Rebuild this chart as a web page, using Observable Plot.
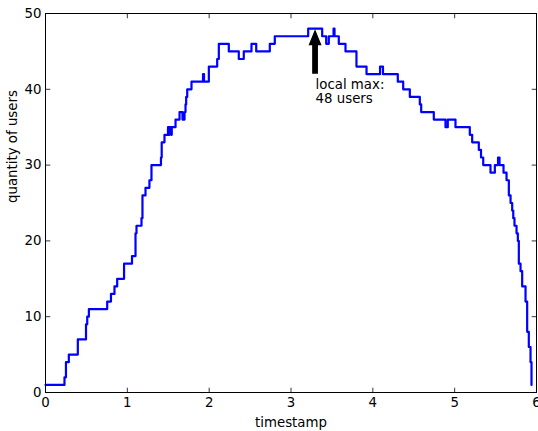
<!DOCTYPE html>
<html>
<head>
<meta charset="utf-8">
<script src="https://cdn.jsdelivr.net/npm/d3@7"></script>
<script src="https://cdn.jsdelivr.net/npm/@observablehq/plot@0.6"></script>
<style>
  html, body { margin: 0; padding: 0; background: #fff; }
</style>
</head>
<body>
<div id="chart"></div>
<script>
const timestamps = [0, 0.232, 0.25, 0.285, 0.395, 0.495, 0.51, 0.53, 0.754, 0.80, 0.843, 0.876, 0.96, 1.057, 1.10, 1.112, 1.173, 1.185, 1.222, 1.27, 1.295, 1.411, 1.42, 1.454, 1.497, 1.507, 1.515, 1.536, 1.543, 1.589, 1.638, 1.674, 1.699, 1.711, 1.719, 1.732, 1.784, 1.925, 1.937, 1.996, 2.098, 2.118, 2.24, 2.362, 2.423, 2.517, 2.575, 2.741, 2.802, 3.21, 3.381, 3.43, 3.462, 3.52, 3.532, 3.584, 3.666, 3.80, 3.923, 4.088, 4.124, 4.305, 4.371, 4.452, 4.574, 4.591, 4.745, 4.888, 4.916, 5.01, 5.185, 5.214, 5.295, 5.322, 5.349, 5.438, 5.491, 5.53, 5.548, 5.597, 5.634, 5.662, 5.683, 5.703, 5.716, 5.731, 5.756, 5.772, 5.784, 5.805, 5.825, 5.866, 5.886, 5.906, 5.927, 5.939];
const users = [1, 2, 4, 5, 7, 9, 10, 11, 12, 13, 14, 15, 17, 18, 21, 22, 23, 26, 27, 28, 30, 31, 33, 34, 35, 34, 35, 34, 35, 36, 37, 36, 37, 38, 39, 40, 41, 42, 41, 43, 44, 46, 45, 44, 45, 46, 45, 46, 47, 48, 47, 46, 47, 48, 47, 46, 45, 43, 42, 43, 42, 41, 40, 39, 38, 37, 36, 35, 36, 35, 34, 33, 32, 31, 30, 29, 30, 31, 30, 29, 28, 26, 25, 24, 23, 22, 21, 20, 17, 16, 14, 12, 8, 6, 4, 1];

const xTicks = [0, 1, 2, 3, 4, 5, 6];
const yTicks = [0, 10, 20, 30, 40, 50];
const xDomain = [0, 6];
const yDomain = [0, 50];

const xLabel = "timestamp";
const yLabel = "quantity of users";

const annText = "local max:\n48 users";
const annX = 3.3;
const annTextY = 38.25;
const arrowTailY = 42;
const arrowTipY = 47.85;

const data = timestamps.map((t, i) => ({t, u: users[i]}));

const FONT = "DejaVu Sans";
const FS = 13.33;
const tickShape = {draw(ctx, l) { ctx.moveTo(0, 0); ctx.lineTo(0, -l); }};
const tickLen = 4.4;

function fatArrow(index, scales) {
  const x = scales.x(annX), y0 = scales.y(arrowTailY), y1 = scales.y(arrowTipY);
  const hw = 6.5, sw = 2.9, hl = 16;
  const p = document.createElementNS("http://www.w3.org/2000/svg", "path");
  p.setAttribute("d", `M${x - sw},${y0}L${x - sw},${y1 + hl}L${x - hw},${y1 + hl}L${x},${y1}L${x + hw},${y1 + hl}L${x + sw},${y1 + hl}L${x + sw},${y0}Z`);
  p.setAttribute("fill", "black");
  return p;
}

const chart = Plot.plot({
  width: 538,
  height: 431,
  marginLeft: 45,
  marginRight: 2,
  marginTop: 13,
  marginBottom: 39,
  style: {fontFamily: FONT, fontSize: FS + "px", background: "white", color: "black"},
  x: {domain: xDomain},
  y: {domain: yDomain},
  marks: [
    Plot.line(data, {x: "t", y: "u", curve: "step-after", stroke: "#0000ff", strokeWidth: 2.2}),
    Plot.frame({stroke: "black", strokeWidth: 1}),
    Plot.vector(xTicks, {x: d => d, y: yDomain[0], length: tickLen, rotate: 0, anchor: "start", shape: tickShape, stroke: "black", strokeWidth: 0.8}),
    Plot.vector(xTicks, {x: d => d, y: yDomain[1], length: tickLen, rotate: 180, anchor: "start", shape: tickShape, stroke: "black", strokeWidth: 0.8}),
    Plot.vector(yTicks, {y: d => d, x: xDomain[0], length: tickLen, rotate: 90, anchor: "start", shape: tickShape, stroke: "black", strokeWidth: 0.8}),
    Plot.vector(yTicks, {y: d => d, x: xDomain[1], length: tickLen, rotate: -90, anchor: "start", shape: tickShape, stroke: "black", strokeWidth: 0.8}),
    Plot.axisX({ticks: xTicks, tickSize: 0, tickPadding: 5, label: null, fontSize: FS, tickFormat: d => String(d)}),
    Plot.axisY({ticks: yTicks, tickSize: 0, tickPadding: 4, label: null, fontSize: FS, tickFormat: d => String(d)}),
    Plot.text([xLabel], {frameAnchor: "bottom", text: d => d, dy: 34, lineAnchor: "bottom", fontSize: FS, fill: "black"}),
    Plot.text([yLabel], {frameAnchor: "left", text: d => d, dx: -29, rotate: -90, lineAnchor: "bottom", fontSize: FS, fill: "black"}),
    fatArrow,
    Plot.text([annText], {x: () => annX, y: () => annTextY, text: d => d, textAnchor: "start", lineAnchor: "bottom", lineHeight: 1.05, fontSize: FS, fill: "black"})
  ]
});
document.getElementById("chart").appendChild(chart);
</script>
</body>
</html>
